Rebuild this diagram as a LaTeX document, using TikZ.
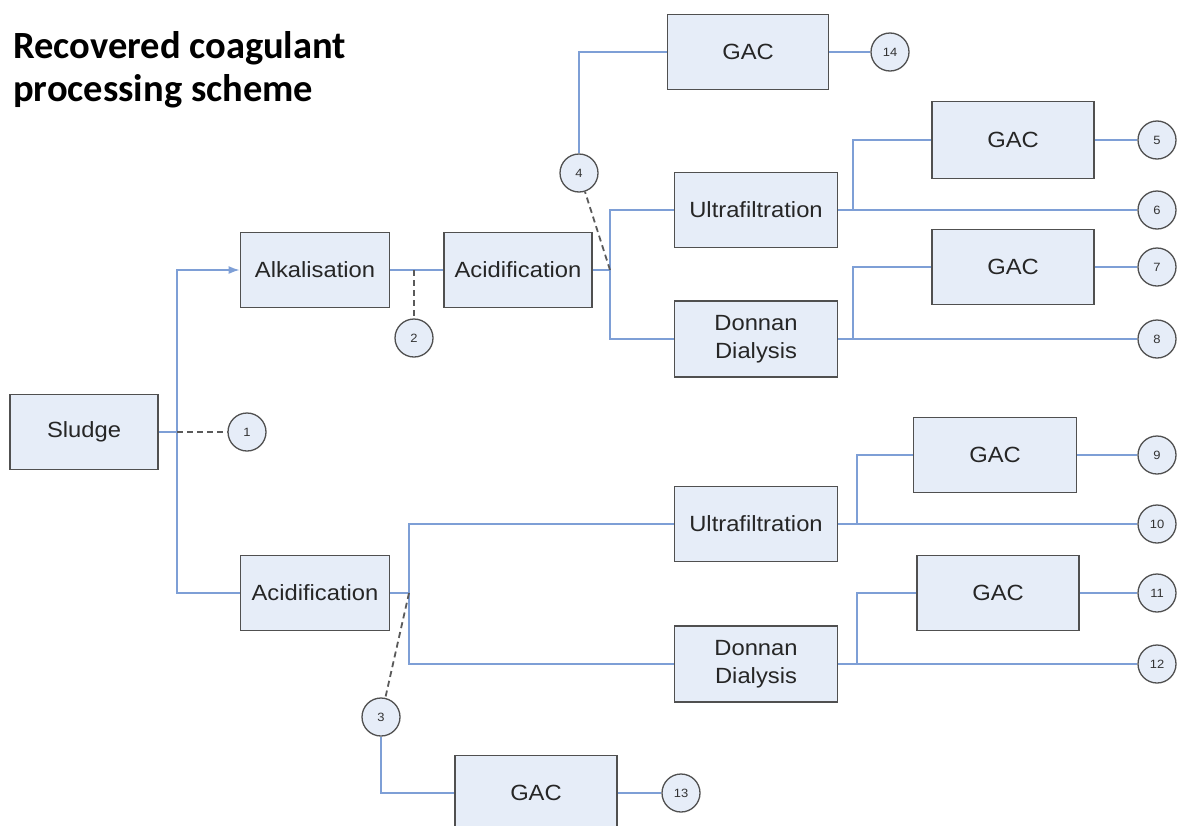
\documentclass[tikz,border=0pt]{standalone}
\usepackage{fontspec}
\setmainfont[FakeStretch=1.08]{Liberation Sans}
\newfontfamily\titlefont{Carlito}
\usetikzlibrary{arrows.meta}
\definecolor{boxfill}{HTML}{E6EDF8}
\definecolor{boxline}{HTML}{505050}
\definecolor{flowc}{HTML}{7E9FD6}
\definecolor{dashc}{HTML}{5A5A5A}
\begin{document}
\begin{tikzpicture}[x=1pt,y=-1pt,
  proc/.style={draw=boxline,line width=1.8pt,fill=boxfill,minimum height=75pt,
    font=\fontsize{22}{28}\selectfont,align=center,inner sep=0pt,text=black!85},
  numc/.style={circle,draw=boxline,line width=1.3pt,fill=boxfill,minimum size=38pt,
    inner sep=0pt,font=\fontsize{12}{13}\selectfont,text=black!80},
  flow/.style={draw=flowc,line width=1.5pt},
  dashln/.style={draw=dashc,line width=1.8pt,dash pattern=on 6pt off 4pt},
  titletxt/.style={anchor=base west,inner sep=0pt,font=\titlefont\bfseries\fontsize{38.5}{45}\selectfont}
]
\useasboundingbox (0,0) rectangle (1177,825);
\clip (0,0) rectangle (1177,825);
% title
\node[titletxt] (t1) at (13,58) {Recovered coagulant};
\node[titletxt] (t2) at (13,101) {processing scheme};
% boxes
\node[proc,minimum width=148pt] (sludge) at (84,432) {Sludge};
\node[proc,minimum width=149pt] (alk) at (315,270) {Alkalisation};
\node[proc,minimum width=148pt] (acid1) at (518,270) {Acidification};
\node[proc,minimum width=161pt] (gac14) at (748,52) {GAC};
\node[proc,minimum width=163pt] (uf1) at (756,210) {Ultrafiltration};
\node[proc,minimum width=163pt,minimum height=76pt] (dd1) at (756,339) {Donnan\\Dialysis};
\node[proc,minimum width=162pt,minimum height=77pt] (gac5) at (1013,140) {GAC};
\node[proc,minimum width=162pt] (gac7) at (1013,267) {GAC};
\node[proc,minimum width=149pt] (acid2) at (315,593) {Acidification};
\node[proc,minimum width=163pt] (uf2) at (756,524) {Ultrafiltration};
\node[proc,minimum width=163pt,minimum height=76pt] (dd2) at (756,664) {Donnan\\Dialysis};
\node[proc,minimum width=163pt] (gac9) at (995,455) {GAC};
\node[proc,minimum width=162pt] (gac11) at (998,593) {GAC};
\node[proc,minimum width=162pt] (gac13) at (536,793) {GAC};
% circles
\node[numc] (c14) at (890,52) {14};
\node[numc] (c5) at (1157,140) {5};
\node[numc] (c6) at (1157,210) {6};
\node[numc] (c7) at (1157,267) {7};
\node[numc] (c8) at (1157,339) {8};
\node[numc] (c9) at (1157,455) {9};
\node[numc] (c10) at (1157,524) {10};
\node[numc] (c11) at (1157,593) {11};
\node[numc] (c12) at (1157,664) {12};
\node[numc] (c13) at (681,793) {13};
\node[numc] (c1) at (247,432) {1};
\node[numc] (c2) at (414,338) {2};
\node[numc] (c3) at (381,717) {3};
\node[numc] (c4) at (579,173) {4};
% junctions
\coordinate (j1) at (177,432);
\coordinate (j2) at (414,270);
\coordinate (j3) at (610,270);
\coordinate (j4) at (409,593);
\coordinate (j5) at (853,210);
\coordinate (j6) at (853,339);
\coordinate (j7) at (857,524);
\coordinate (j8) at (857,664);
% sludge split
\draw[flow] (sludge.east) -- (j1);
\draw[flow,-{Latex[length=11pt,width=8pt]}] (j1) |- (alk.west);
\draw[flow] (j1) |- (acid2.west);
\draw[dashln] (j1) -- (c1.west);
% upper branch
\draw[flow] (alk.east) -- (acid1.west);
\draw[dashln] (j2) -- (c2.north);
\draw[flow] (acid1.east) -- (j3);
\draw[flow] (j3) |- (uf1.west);
\draw[flow] (j3) |- (dd1.west);
\draw[dashln] (j3) -- (c4);
\draw[flow] (c4.north) |- (gac14.west);
\draw[flow] (gac14.east) -- (c14.west);
\draw[flow] (uf1.east) -- (c6.west);
\draw[flow] (j5) |- (gac5.west);
\draw[flow] (gac5.east) -- (c5.west);
\draw[flow] (dd1.east) -- (c8.west);
\draw[flow] (j6) |- (gac7.west);
\draw[flow] (gac7.east) -- (c7.west);
% lower branch
\draw[flow] (acid2.east) -- (j4);
\draw[flow] (j4) |- (uf2.west);
\draw[flow] (j4) |- (dd2.west);
\draw[dashln] (j4) -- (c3);
\draw[flow] (c3.south) |- (gac13.west);
\draw[flow] (gac13.east) -- (c13.west);
\draw[flow] (uf2.east) -- (c10.west);
\draw[flow] (j7) |- (gac9.west);
\draw[flow] (gac9.east) -- (c9.west);
\draw[flow] (dd2.east) -- (c12.west);
\draw[flow] (j8) |- (gac11.west);
\draw[flow] (gac11.east) -- (c11.west);
\end{tikzpicture}
\end{document}
